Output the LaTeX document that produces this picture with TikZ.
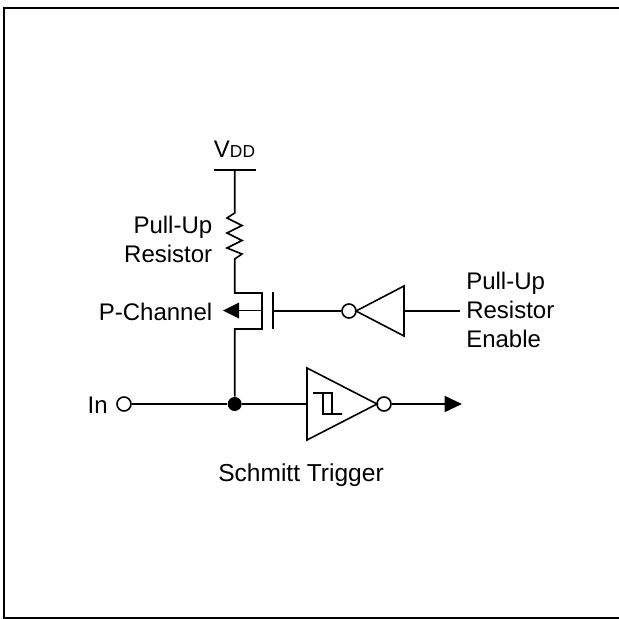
\documentclass[tikz,border=0pt]{standalone}
\usepackage{fontspec}
\setmainfont{Liberation Sans}
\usetikzlibrary{arrows.meta}
\tikzset{
  wire/.style={line width=1.2pt},
  bubble/.style={circle,draw,line width=1.2pt,fill=white,minimum size=10.5pt,inner sep=0pt},
  junction/.style={circle,fill=black,minimum size=10.5pt,inner sep=0pt},
  label/.style={font=\fontsize{18}{21}\selectfont,inner sep=0pt},
  head/.style={-{Triangle[length=13pt,width=12pt]}}
}
\begin{document}
\begin{tikzpicture}[x=0.75pt,y=-0.75pt]
\useasboundingbox (0,0) rectangle (619,619);
\draw[line width=1.5pt] (619,8) -- (4,8) -- (4,618) -- (619,618);
\coordinate (vddl) at (214,170);
\coordinate (vddr) at (256,170);
\coordinate (vdd) at (234.7,170);
\coordinate (rt) at (234.7,213);
\coordinate (rb) at (234.7,259);
\coordinate (d) at (234.7,293);
\coordinate (cht) at (262,293);
\coordinate (chm) at (262,310.5);
\coordinate (chb) at (262,329);
\coordinate (s) at (234.7,329);
\coordinate (tip) at (223,310.5);
\coordinate (gt) at (273,292);
\coordinate (gb) at (273,329);
\coordinate (gm) at (273,311);
\coordinate (inv1a) at (356,311);
\coordinate (inv1b) at (404,286);
\coordinate (inv1c) at (404,336);
\coordinate (inv1in) at (404,311);
\coordinate (en) at (460,311);
\coordinate (inv2a) at (307,368);
\coordinate (inv2b) at (307,440);
\coordinate (inv2c) at (377,404);
\coordinate (inv2in) at (307,404);
\coordinate (out) at (462,404);
\node[junction] (j) at (234.7,404) {};
\node[bubble] (b1) at (349,311) {};
\node[bubble] (b2) at (384,404) {};
\node[bubble] (bin) at (124,404) {};
\node[label,anchor=base] (tvdd) at (234.5,157) {V{\fontsize{13}{15}\selectfont DD}};
\node[label,anchor=base east] (tpu) at (212.5,233) {Pull-Up};
\node[label,anchor=base east] (tres) at (212.5,262) {Resistor};
\node[label,anchor=base east] (tpc) at (212.5,320) {P-Channel};
\node[label,anchor=base west] (tpe1) at (466,289) {Pull-Up};
\node[label,anchor=base west] (tpe2) at (466,318) {Resistor};
\node[label,anchor=base west] (tpe3) at (466,347) {Enable};
\node[label,anchor=base east] (tin) at (108,413) {In};
\node[label,anchor=base] (tst) at (301,481) {\fontsize{18.4}{21}\selectfont Schmitt Trigger};
\draw[wire] (vddl) -- (vddr);
\draw[wire,line join=miter] (vdd) -- (rt) -- (227,218) -- (242,225.5) -- (227,233) -- (242,240.5) -- (227,248) -- (242,254) -- (rb) -- (d) -- (cht) -- (chb) -- (s) -- (j);
\draw[wire] (chm) -- (232,310.5);
\draw[fill=black,draw=none] (tip) -- (239,302.5) -- (239,318.5) -- cycle;
\draw[wire] (gt) -- (gb);
\draw[wire] (gm) -- (b1);
\draw[wire] (inv1a) -- (inv1b) -- (inv1c) -- cycle;
\draw[wire] (inv1in) -- (en);
\draw[wire] (bin) -- (j) -- (inv2in);
\draw[wire] (inv2a) -- (inv2b) -- (inv2c) -- cycle;
\draw[wire,head] (b2) -- (out);
\draw[line width=0.9pt] (313,393) -- (332,393) -- (332,414) -- (342,414) -- (323,414) -- (323,393);
\end{tikzpicture}
\end{document}
